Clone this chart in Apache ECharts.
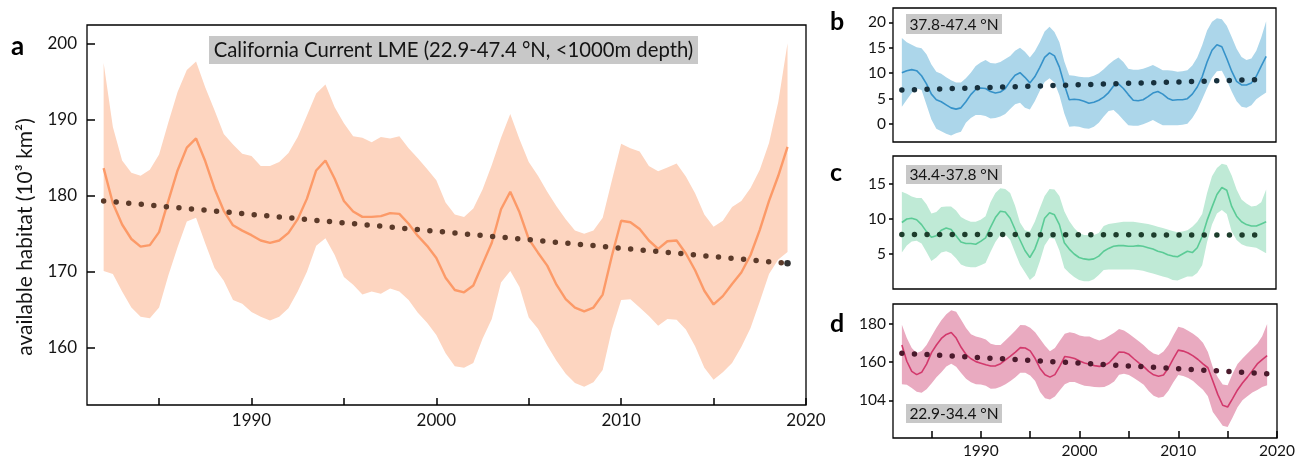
<!DOCTYPE html>
<html><head><meta charset="utf-8">
<script src="https://cdn.jsdelivr.net/npm/echarts@6.0.0/dist/echarts.min.js"></script>
<style>html,body{margin:0;padding:0;background:#fff}#c{width:1307px;height:464px}</style>
</head><body><div id="c"></div>
<script>
// ---------- DATA ----------
const years = [1982,1982.5,1983,1983.5,1984,1984.5,1985,1985.5,1986,1986.5,
1987,1987.5,1988,1988.5,1989,1989.5,1990,1990.5,1991,1991.5,
1992,1992.5,1993,1993.5,1994,1994.5,1995,1995.5,1996,1996.5,
1997,1997.5,1998,1998.5,1999,1999.5,2000,2000.5,2001,2001.5,
2002,2002.5,2003,2003.5,2004,2004.5,2005,2005.5,2006,2006.5,
2007,2007.5,2008,2008.5,2009,2009.5,2010,2010.5,2011,2011.5,
2012,2012.5,2013,2013.5,2014,2014.5,2015,2015.5,2016,2016.5,
2017,2017.5,2018,2018.5,2019];

// Panel a: California Current LME
const aMean = [183.6,179.0,176.2,174.3,173.3,173.5,175.2,179.3,183.3,186.3,
187.5,184.5,180.9,178.0,176.1,175.4,174.8,174.1,173.8,174.1,
175.1,176.9,179.6,183.3,184.6,182.2,179.3,177.9,177.2,177.2,
177.3,177.7,177.6,176.3,174.7,173.4,171.8,169.2,167.6,167.3,
168.2,171.0,173.8,178.2,180.5,177.8,174.3,172.5,170.8,168.3,
166.4,165.3,164.8,165.3,167.0,172.1,176.7,176.5,175.6,174.1,
173.0,174.0,174.1,172.4,170.2,167.5,165.7,166.8,168.4,169.9,
172.2,175.5,179.3,182.6,186.4];
const aUpper = [197.4,189.0,184.6,183.0,182.6,183.4,185.4,189.6,193.6,196.5,
197.6,194.2,191.2,188.1,186.7,185.5,185.2,183.9,183.9,184.4,
185.6,187.7,190.5,193.4,194.6,191.6,189.5,187.8,187.6,187.0,
187.7,187.5,187.8,186.2,184.9,183.5,182.0,179.1,177.5,177.2,
178.3,180.8,184.0,187.6,190.7,187.4,184.4,182.6,180.5,178.6,
176.9,175.4,175.0,175.4,177.1,182.0,186.8,186.2,185.8,183.9,
183.2,183.7,184.2,182.5,180.3,177.5,175.9,176.7,178.5,179.3,
181.0,183.4,186.9,192.3,200.0];
const aLower = [170.1,169.7,167.4,165.3,164.1,163.9,165.3,169.5,173.2,176.6,
177.1,173.7,170.5,168.8,166.3,165.8,164.7,164.1,163.6,164.1,
165.2,167.4,170.0,173.4,174.4,172.2,169.3,168.3,167.0,167.4,
167.1,167.8,167.4,166.3,164.6,163.3,161.7,159.3,157.6,157.4,
158.0,161.2,163.8,168.6,170.1,168.0,164.0,162.5,160.3,158.3,
156.6,155.4,154.9,155.5,157.1,162.4,166.3,166.4,165.3,164.2,
162.9,163.8,163.7,162.4,160.2,157.4,155.8,156.8,158.0,160.1,
162.6,166.1,169.7,171.6,172.6];
const aTrend = [[1982,179.3],[2019,171.1]];

// Panel b: 37.8-47.4 °N
const bMean = [10.1,10.5,10.7,10.5,9.5,7.9,5.9,4.8,4.4,3.8,
3.2,2.95,3.2,4.4,5.8,6.8,7.1,7.0,6.4,6.1,
6.3,7.0,8.4,9.6,10.1,9.2,8.1,9.3,11.1,13.1,
14.0,13.4,11.2,7.8,4.8,4.9,4.8,4.5,4.1,4.3,
4.7,5.3,6.2,7.5,7.9,7.0,5.8,4.7,4.6,4.8,
5.4,6.1,6.4,5.9,5.1,4.7,4.8,4.8,5.0,5.9,
7.3,9.3,12.2,14.5,15.6,15.2,12.9,10.4,8.4,7.7,
7.7,8.1,9.4,11.4,13.3];
const bUpper = [16.9,16.1,15.6,15.1,14.9,13.7,11.7,10.3,9.9,9.2,
8.6,8.2,8.2,9.0,10.1,11.4,12.1,12.6,12.0,11.9,
12.2,12.8,13.4,14.4,15.0,14.2,13.1,14.3,16.1,18.2,
19.1,18.1,16.1,12.3,9.6,9.5,9.3,9.2,9.2,9.5,
10.0,10.8,11.7,12.5,13.1,12.2,10.9,10.7,10.7,10.9,
11.2,11.6,11.1,10.6,10.6,10.5,10.3,10.4,10.6,11.5,
13.1,15.5,18.4,20.1,20.8,20.6,19.3,17.1,14.8,13.2,
12.6,12.9,14.4,17.0,20.2];
const bLower = [3.4,4.8,6.1,7.0,6.7,3.8,0.9,-0.9,-1.4,-1.9,
-2.2,-1.8,-1.5,0.3,1.2,1.8,1.8,1.6,1.1,1.2,
1.5,2.0,3.0,3.9,4.2,3.2,2.9,4.5,6.5,8.3,
9.0,8.2,5.7,2.1,-0.5,-0.4,-0.5,-0.8,-0.9,-0.5,
0.3,1.5,2.6,2.8,1.9,0.8,-0.2,-0.3,-0.3,0.0,
0.4,0.8,0.3,-0.2,-0.2,-0.2,-0.2,-0.1,0.1,1.2,
2.8,4.9,7.1,9.1,10.4,10.5,8.6,6.4,4.5,3.4,
3.2,3.7,4.9,5.6,6.2];
const bTrend = [[1982,6.7],[2019,8.8]];

// Panel c: 34.4-37.8 °N
const cMean = [9.5,10.0,10.1,9.9,9.2,8.2,7.4,7.6,8.4,8.7,
8.5,7.6,6.7,6.5,6.5,6.4,6.8,7.3,8.8,10.2,
11.1,11.0,10.1,8.5,7.0,5.5,4.5,5.7,7.6,10.1,
10.9,10.6,9.2,6.6,5.7,5.0,4.5,4.3,4.2,4.3,
4.7,5.4,5.8,6.1,6.2,6.2,6.1,6.1,6.2,6.1,
5.9,5.7,5.4,5.2,4.9,4.7,4.6,5.0,5.4,5.2,
5.9,7.5,9.8,11.7,13.5,14.5,14.1,11.8,10.4,9.6,
9.2,9.0,9.0,9.3,9.6];
const cUpper = [13.9,13.6,13.2,13.0,13.0,12.1,10.8,11.0,11.7,11.8,
11.8,11.2,10.3,9.9,9.6,9.6,9.9,10.4,12.4,13.7,
14.4,14.3,13.7,11.9,9.5,8.4,8.2,9.6,11.5,13.3,
14.3,14.2,13.3,11.1,9.7,8.7,8.0,7.7,7.7,7.7,
8.0,9.0,9.3,9.4,9.5,9.6,9.6,9.6,9.5,9.4,
9.3,9.1,8.9,8.7,8.5,8.3,8.1,8.2,8.4,8.9,
9.6,10.7,13.7,16.1,17.3,17.9,17.7,16.2,14.2,12.8,
12.2,11.8,11.9,12.4,14.2];
const cLower = [5.2,6.2,6.8,6.9,6.5,5.3,4.0,4.5,5.2,5.4,
5.1,4.4,3.5,3.2,3.1,3.1,3.4,3.7,5.3,6.7,
7.7,7.8,7.0,5.2,3.5,2.4,1.3,1.9,3.9,6.2,
7.3,7.2,5.5,3.0,2.3,1.7,1.3,1.1,1.1,1.4,
2.0,2.7,2.8,2.8,2.8,2.8,2.8,2.8,2.7,2.6,
2.4,2.2,2.0,1.8,1.6,1.3,1.2,1.5,1.8,1.8,
2.3,3.4,6.7,9.2,10.8,11.3,10.7,8.2,7.0,6.4,
6.1,6.0,5.9,5.5,5.1];
const cTrend = [[1982,7.8],[2019,7.7]];

// Panel d: 22.9-34.4 °N
const dMean = [169.0,160.5,155.2,153.5,154.7,159.0,165.0,169.0,172.4,174.5,
175.5,172.6,167.8,164.0,161.8,160.3,159.5,158.7,158.0,158.1,
159.2,161.2,163.2,165.3,167.6,167.4,165.9,161.9,156.7,153.4,
152.2,153.5,158.0,163.0,162.6,161.9,160.6,159.6,158.9,158.2,
157.8,158.3,159.7,162.5,165.3,165.2,164.1,161.8,159.7,157.7,
155.2,153.4,152.7,153.3,157.0,161.9,166.3,165.8,164.8,163.3,
161.4,159.1,157.1,150.2,143.2,137.5,136.6,141.0,145.5,149.1,
152.2,155.6,159.1,161.3,163.4];
const dUpper = [179.5,172.6,167.4,164.8,165.9,169.0,173.5,178.0,181.9,185.1,
187.2,186.3,182.2,177.8,174.6,173.4,172.8,171.8,169.7,169.0,
169.0,171.4,174.0,176.6,179.4,179.3,178.0,175.6,172.1,168.6,
165.7,167.4,171.2,174.8,175.6,175.1,173.9,173.4,173.4,172.2,
171.3,172.3,173.8,175.4,177.3,176.6,174.9,172.9,170.9,168.9,
166.4,164.5,163.8,165.6,169.0,173.9,178.5,177.8,176.4,174.8,
172.9,170.2,165.3,157.3,152.2,148.3,148.0,154.0,159.0,161.9,
164.6,167.2,169.6,173.6,180.0];
const dLower = [148.5,148.2,146.5,144.6,144.1,145.9,148.9,152.1,154.7,157.7,
159.2,157.6,154.3,151.4,149.5,148.5,148.3,147.7,146.1,146.2,
147.2,148.5,150.2,152.2,154.5,154.5,153.1,150.2,144.4,141.2,
140.5,142.1,145.4,148.5,149.6,149.6,148.6,147.7,147.4,147.1,
146.9,147.1,148.2,149.9,153.5,153.9,153.3,151.7,150.1,148.2,
144.9,142.5,141.4,142.0,145.1,149.5,153.3,152.8,151.7,150.2,
147.8,145.6,142.2,134.0,130.4,126.8,126.1,131.1,136.4,140.1,
142.2,144.2,145.5,147.1,147.9];
const dTrend = [[1982,164.7],[2019,154.0]];

// Tick values / labels
const xTickYears = [1985,1990,1995,2000,2005,2010,2015,2020];
const xLabelYears = [1990,2000,2010,2020];
const aYTicks = [160,170,180,190,200];
const bYTicks = [0,5,10,15,20];
const cYTicks = [5,10,15];
const dYTicks = [140,160,180];
const dYTickLabels = ['104','160','180'];

const titleA = 'California Current LME (22.9-47.4 °N, <1000m depth)';
const titleB = '37.8-47.4 °N';
const titleC = '34.4-37.8 °N';
const titleD = '22.9-34.4 °N';
const yNameA = 'available habitat (10³ km²)';

// ---------- CHART ----------
const FONT = 'Lato, "Open Sans", sans-serif';
const TXT = '#141414';
const chart = echarts.init(document.getElementById('c'));

function pairs(ys){ return years.map((x,i)=>[x, ys[i]]); }

function bandSeries(idx, lo, up, color){
  // one row per year: [year, lower, upper]; polygon drawn through the axis scales
  const rows = years.map((x,i)=>[x, lo[i], up[i]]);
  return {type:'custom', xAxisIndex:idx, yAxisIndex:idx, data:rows, silent:true, z:1,
    encode:{x:0, y:[1,2]},
    renderItem:function(params, api){
      if (params.dataIndex !== 0) return null;
      const top = [], bot = [];
      for (let i = 0; i < rows.length; i++){
        top.push(api.coord([rows[i][0], rows[i][2]]));
        bot.push(api.coord([rows[i][0], rows[i][1]]));
      }
      const pts = top.concat(bot.reverse());
      const cs = params.coordSys;
      return {type:'polygon', shape:{points:pts}, style:{fill:color, stroke:null},
        clipPath:{type:'rect', shape:{x:cs.x, y:cs.y, width:cs.width, height:cs.height}}};
    }};
}

function panelSeries(idx, lo, up, mean, trend, band, line, dot, lw){
  return [
    bandSeries(idx, lo, up, band),
    {type:'line', xAxisIndex:idx, yAxisIndex:idx, data:pairs(mean), symbol:'none',
     lineStyle:{color:line, width:lw}, silent:true, z:3},
    {type:'line', xAxisIndex:idx, yAxisIndex:idx, data:trend, symbol:'none',
     lineStyle:{color:dot, width:5.5, type:[0,12.6], cap:'round'}, silent:true, z:4}
  ];
}

function xAxis(idx, showLabels, showTicks){
  return {gridIndex:idx, type:'value', min:1981.1, max:2020,
    axisLine:{show:false},
    axisTick:{show:showTicks, inside:true, length:7, customValues:xTickYears, lineStyle:{color:'#000', width:1.5}},
    axisLabel:{show:showLabels, customValues:xLabelYears, formatter:v=>String(v), fontSize: idx===0?17:15.5,
      color:TXT, fontFamily:FONT, margin: idx===0?7:5, showMaxLabel:true, showMinLabel:true, hideOverlap:false},
    splitLine:{show:false}};
}
function yAxis(idx, min, max, ticks, inside, fs, fmt){
  return {gridIndex:idx, type:'value', min, max,
    axisLine:{show:false},
    axisTick:{show:true, inside, length: inside?8:4, customValues:ticks, lineStyle:{color:'#000', width:1.5}},
    axisLabel:{customValues:ticks, formatter: fmt || (v=>String(v)), fontSize:fs, color:TXT, fontFamily:FONT,
      margin: inside?10:7, showMaxLabel:true, showMinLabel:true, hideOverlap:false},
    splitLine:{show:false}};
}

const gridBase = {show:true, borderColor:'#000', borderWidth:1.3, backgroundColor:'transparent', outerBoundsMode:'none', containLabel:false};

const option = {
  animation:false,
  grid:[
    Object.assign({left:87, top:25, width:719, height:380}, gridBase),
    Object.assign({left:893, top:8, width:383, height:134}, gridBase),
    Object.assign({left:893, top:156, width:383, height:133}, gridBase),
    Object.assign({left:893, top:304, width:384, height:134}, gridBase)
  ],
  xAxis:[ xAxis(0,true,true), xAxis(1,false,false), xAxis(2,false,false), xAxis(3,true,true) ],
  yAxis:[
    yAxis(0, 152.5, 202.4, aYTicks, true, 17),
    yAxis(1, -3.5, 22.8, bYTicks, false, 15.5),
    yAxis(2, 0, 19, cYTicks, false, 15.5),
    yAxis(3, 120.4, 190.4, dYTicks, false, 15.5, v => dYTickLabels[dYTicks.indexOf(v)])
  ],
  series:[].concat(
    panelSeries(0, aLower, aUpper, aMean, aTrend, '#fdd5c0', '#fc9a68', '#5b3a29', 2.4),
    [{type:'scatter', xAxisIndex:0, yAxisIndex:0, data:[aTrend[1]], symbolSize:6.5, itemStyle:{color:'#000'}, silent:true, z:5}],
    panelSeries(1, bLower, bUpper, bMean, bTrend, '#acd6ea', '#3692c9', '#17303d', 1.6),
    panelSeries(2, cLower, cUpper, cMean, cTrend, '#bfead6', '#5bcb96', '#1d3d2c', 1.6),
    panelSeries(3, dLower, dUpper, dMean, dTrend, '#e9aac0', '#d2396c', '#4a1a2c', 1.6)
  ),
  graphic:[
    {type:'rect', shape:{x:209, y:36, width:489, height:28}, style:{fill:'#c8c8c8'}, z:10},
    {type:'text', x:453.5, y:50.5, style:{text:titleA, font:'20.3px '+FONT, fill:TXT, align:'center', verticalAlign:'middle'}, z:11},
    {type:'rect', shape:{x:906, y:14, width:96, height:20}, style:{fill:'#c8c8c8'}, z:10},
    {type:'text', x:954, y:24.5, style:{text:titleB, font:'15.5px '+FONT, fill:TXT, align:'center', verticalAlign:'middle'}, z:11},
    {type:'rect', shape:{x:906, y:165, width:96, height:19}, style:{fill:'#c8c8c8'}, z:10},
    {type:'text', x:954, y:175, style:{text:titleC, font:'15.5px '+FONT, fill:TXT, align:'center', verticalAlign:'middle'}, z:11},
    {type:'rect', shape:{x:906, y:404, width:96, height:19}, style:{fill:'#c8c8c8'}, z:10},
    {type:'text', x:954, y:414, style:{text:titleD, font:'15.5px '+FONT, fill:TXT, align:'center', verticalAlign:'middle'}, z:11},
    {type:'text', x:25, y:237, rotation:Math.PI/2, style:{text:yNameA, font:'21px '+FONT, fill:TXT, align:'center', verticalAlign:'middle'}, z:11},
    {type:'text', x:11, y:47, style:{text:'a', font:'bold 26px '+FONT, fill:'#000', verticalAlign:'middle'}, z:11},
    {type:'text', x:830, y:22, style:{text:'b', font:'bold 25px '+FONT, fill:'#000', verticalAlign:'middle'}, z:11},
    {type:'text', x:830, y:173, style:{text:'c', font:'bold 25px '+FONT, fill:'#000', verticalAlign:'middle'}, z:11},
    {type:'text', x:830, y:324, style:{text:'d', font:'bold 25px '+FONT, fill:'#000', verticalAlign:'middle'}, z:11}
  ]
};
chart.setOption(option);
</script></body></html>
